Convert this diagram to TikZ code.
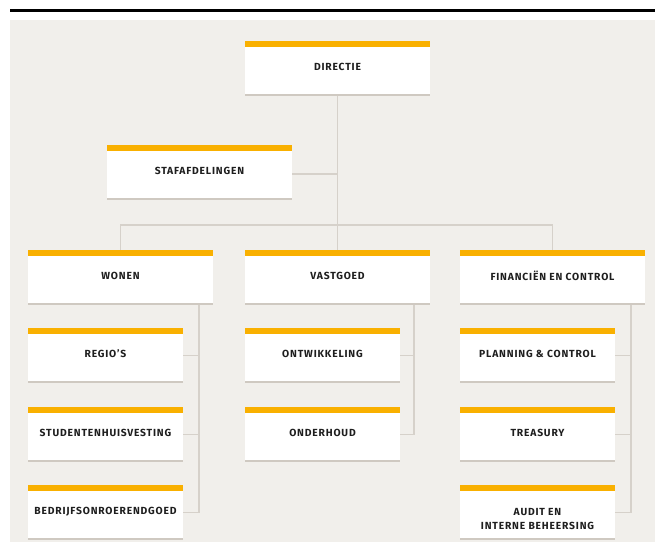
\documentclass[tikz,border=0pt]{standalone}
\usepackage{fontspec}
\usepackage{tikz}
\newfontfamily\unitfont{Fira Sans}[LetterSpace=8]
\definecolor{barorange}{HTML}{F9B000}
\definecolor{backgray}{HTML}{F1EFEB}
\definecolor{linkgray}{HTML}{D6D1CA}
\definecolor{basegray}{HTML}{CFC9C1}
\definecolor{labelblack}{HTML}{1E1E1E}
\pgfdeclarelayer{backlayer}
\pgfdeclarelayer{edgelayer}
\pgfdeclarelayer{nodelayer}
\pgfsetlayers{backlayer,edgelayer,nodelayer,main}
\tikzstyle{link}=[draw=linkgray, line width=1.2pt]
\tikzstyle{unit}=[rectangle, fill=white, inner sep=0pt, minimum height=55pt, align=center,
  text=labelblack, text depth=4pt, font=\unitfont\bfseries\fontsize{10.3}{14}\selectfont,
  path picture={
    \fill[barorange] (path picture bounding box.north west) rectangle ([yshift=-6pt]path picture bounding box.north east);
    \fill[basegray] ([yshift=2pt]path picture bounding box.south west) rectangle (path picture bounding box.south east);
  }]
\tikzstyle{wide}=[unit, minimum width=185pt]
\tikzstyle{narrow}=[unit, minimum width=155pt]

\begin{document}
\begin{tikzpicture}[x=1pt, y=-1pt]
				\useasboundingbox (0,0) rectangle (655,542);
				\begin{pgfonlayer}{backlayer}
					\fill[backgray] (10,20) rectangle (655,542);
					\draw[line width=2.5pt] (10,10.5) -- (655,10.5);
				\end{pgfonlayer}
				\begin{pgfonlayer}{nodelayer}
					\node [style=wide] (0) at (337.5, 68.5) {DIRECTIE};
					\node [style=wide] (1) at (199.5, 172.5) {STAFAFDELINGEN};
					\node [style=wide] (2) at (120.5, 277.5) {WONEN};
					\node [style=wide] (3) at (337.5, 277.5) {VASTGOED};
					\node [style=wide] (4) at (552.5, 277.5) {FINANCIËN EN CONTROL};
					\node [style=narrow] (5) at (105.5, 355.5) {REGIO’S};
					\node [style=narrow] (6) at (105.5, 434.5) {STUDENTENHUISVESTING};
					\node [style=narrow] (7) at (105.5, 512.5) {BEDRIJFSONROERENDGOED};
					\node [style=narrow] (8) at (322.5, 355.5) {ONTWIKKELING};
					\node [style=narrow] (9) at (322.5, 434.5) {ONDERHOUD};
					\node [style=narrow] (10) at (537.5, 355.5) {PLANNING \& CONTROL};
					\node [style=narrow] (11) at (537.5, 434.5) {TREASURY};
					\node [style=narrow, text height=37pt] (12) at (537.5, 512.5) {AUDIT EN\\INTERNE BEHEERSING};
				\end{pgfonlayer}
				\begin{pgfonlayer}{edgelayer}
					\coordinate (bus) at (337.5, 225);
					\coordinate (r2) at (199, 300);
					\coordinate (r3) at (414, 300);
					\coordinate (r4) at (631, 300);
					\draw [style=link] (0) to (3);
					\draw [style=link] ([yshift=-1.5pt]1.east) to ([yshift=-1.5pt]1.east -| bus);
					\draw [style=link] (2.north) |- (bus) -| (4.north);
					\draw [style=link] (r2) |- (7.east);
					\draw [style=link] (5.east) to (5.east -| r2);
					\draw [style=link] (6.east) to (6.east -| r2);
					\draw [style=link] (r3) |- (9.east);
					\draw [style=link] (8.east) to (8.east -| r3);
					\draw [style=link] (r4) |- (12.east);
					\draw [style=link] (10.east) to (10.east -| r4);
					\draw [style=link] (11.east) to (11.east -| r4);
				\end{pgfonlayer}
			\end{tikzpicture}
\end{document}
